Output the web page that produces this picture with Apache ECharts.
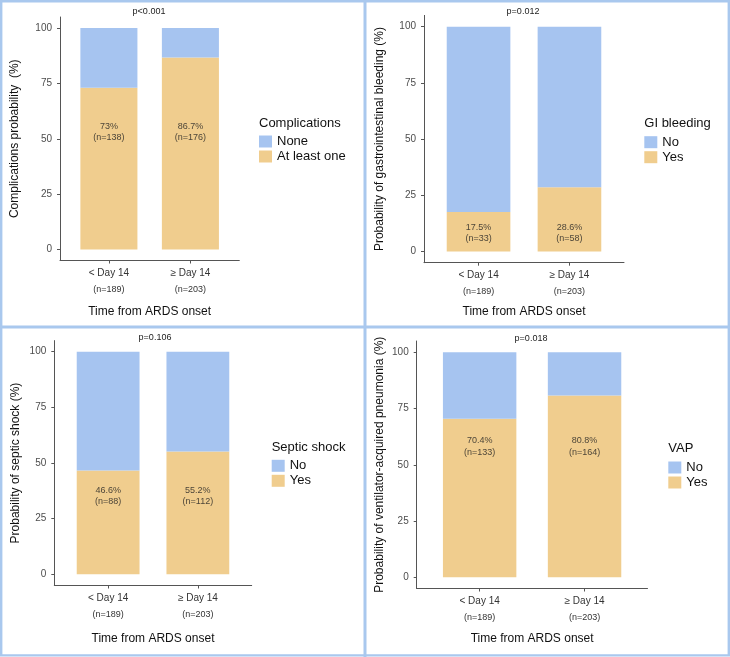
<!DOCTYPE html>
<html>
<head>
<meta charset="utf-8">
<script src="https://cdn.jsdelivr.net/npm/echarts@6/dist/echarts.min.js"></script>
<style>
html,body{margin:0;padding:0;background:#fff;}
#chart{width:730px;height:657px;}
</style>
</head>
<body>
<div id="chart"></div>
<script>
// ---- data ----
const categories = ['< Day 14', '≥ Day 14'];
const groupN = ['(n=189)', '(n=203)'];
const yTicks = [0, 25, 50, 75, 100];

const complicationsAtLeastOne = [73, 86.7];
const complicationsNone = [27, 13.3];
const complicationsCount = [138, 176];

const giYes = [17.5, 28.6];
const giNo = [82.5, 71.4];
const giCount = [33, 58];

const shockYes = [46.6, 55.2];
const shockNo = [53.4, 44.8];
const shockCount = [88, 112];

const vapYes = [70.4, 80.8];
const vapNo = [29.6, 19.2];
const vapCount = [133, 164];

// ---- styles / layout ----
const BLUE = '#a6c4f0';
const YELLOW = '#f0cd8e';
const AXIS = '#555555';
const FONT = 'Liberation Sans, Arial, Helvetica, sans-serif';

const panels = [
  {yes: complicationsAtLeastOne, no: complicationsNone, n: complicationsCount,
   yesName: 'At least one', noName: 'None', yName: 'Complications probability  (%)',
   legendTitle: 'Complications', p: 'p<0.001', labelY: 53,
   grid: {left: 60, top: 17, width: 179.3, height: 243.5}, yGap: 39, xGap: 45.5,
   legend: {left: 259, top: 135}, pPos: [149, 12], ltPos: [259, 123]},
  {yes: giYes, no: giNo, n: giCount,
   yesName: 'Yes', noName: 'No', yName: 'Probability of gastrointestinal bleeding (%)',
   legendTitle: 'GI bleeding', p: 'p=0.012', labelY: 8.1,
   grid: {left: 424, top: 15.4, width: 200, height: 247.3}, yGap: 38, xGap: 43,
   legend: {left: 644.3, top: 135.7}, pPos: [523, 12], ltPos: [644.3, 123]},
  {yes: shockYes, no: shockNo, n: shockCount,
   yesName: 'Yes', noName: 'No', yName: 'Probability of septic shock (%)',
   legendTitle: 'Septic shock', p: 'p=0.106', labelY: 35.1,
   grid: {left: 54.3, top: 340.6, width: 197.4, height: 244.9}, yGap: 33, xGap: 47,
   legend: {left: 271.7, top: 459.3}, pPos: [155, 337.7], ltPos: [271.7, 447.3]},
  {yes: vapYes, no: vapNo, n: vapCount,
   yesName: 'Yes', noName: 'No', yName: 'Probability of ventilator-acquired pneumonia (%)',
   legendTitle: 'VAP', p: 'p=0.018', labelY: 58.2,
   grid: {left: 416.7, top: 341, width: 230.8, height: 247.5}, yGap: 31, xGap: 44.5,
   legend: {left: 668.3, top: 461}, pPos: [531, 339], ltPos: [668.3, 448.3]}
];

const chart = echarts.init(document.getElementById('chart'), null, {renderer: 'canvas'});
const option = {
  animation: false,
  backgroundColor: '#ffffff',
  textStyle: {fontFamily: FONT},
  grid: [], xAxis: [], yAxis: [], series: [], legend: [],
  graphic: [
    {type: 'rect', shape: {x: 1.2, y: 1.2, width: 727.6, height: 654.2}, style: {fill: null, stroke: '#a9c8ee', lineWidth: 2.4}, silent: true},
    {type: 'line', shape: {x1: 365, y1: 0, x2: 365, y2: 657}, style: {stroke: '#a9c8ee', lineWidth: 3}, silent: true},
    {type: 'line', shape: {x1: 0, y1: 327, x2: 730, y2: 327}, style: {stroke: '#a9c8ee', lineWidth: 3}, silent: true}
  ]
};

panels.forEach((p, i) => {
  option.grid.push(Object.assign({containLabel: false}, p.grid));
  option.xAxis.push({
    type: 'value', gridIndex: i, min: -0.6, max: 1.6,
    axisLine: {show: true, onZero: false, lineStyle: {color: AXIS, width: 1}},
    axisTick: {show: true, customValues: [0, 1], length: 3, lineStyle: {color: AXIS}},
    axisLabel: {
      show: true, customValues: [0, 1], margin: 5,
      formatter: v => { const k = Math.round(v); return '{a|' + categories[k] + '}\n{b|' + groupN[k] + '}'; },
      rich: {a: {fontSize: 10, lineHeight: 16, color: '#333', fontFamily: FONT},
             b: {fontSize: 9, lineHeight: 16, color: '#333', fontFamily: FONT}}
    },
    splitLine: {show: false},
    name: 'Time from ARDS onset', nameLocation: 'middle', nameGap: p.xGap,
    nameTextStyle: {fontSize: 12, color: '#111', fontFamily: FONT}
  });
  option.yAxis.push({
    type: 'value', gridIndex: i, min: -5, max: 105,
    axisLine: {show: true, onZero: false, lineStyle: {color: AXIS, width: 1}},
    axisTick: {show: true, customValues: yTicks, length: 3, lineStyle: {color: AXIS}},
    axisLabel: {show: true, customValues: yTicks, margin: 8, fontSize: 10, color: '#4d4d4d', fontFamily: FONT},
    splitLine: {show: false},
    name: p.yName, nameLocation: 'middle', nameGap: p.yGap,
    nameTextStyle: {fontSize: 12, color: '#111', fontFamily: FONT}
  });
  const bw = 0.7 * p.grid.width / 2.2;
  // value first so the stacked dimension is the percentage (y), x position second
  option.series.push({
    type: 'bar', name: p.yesName, xAxisIndex: i, yAxisIndex: i, stack: 'stk' + i,
    barWidth: bw, silent: true,
    itemStyle: {color: YELLOW},
    encode: {x: 1, y: 0},
    data: p.yes.map((v, k) => [v, k])
  });
  option.series.push({
    type: 'bar', name: p.noName, xAxisIndex: i, yAxisIndex: i, stack: 'stk' + i,
    barWidth: bw, silent: true,
    itemStyle: {color: BLUE},
    encode: {x: 1, y: 0},
    data: p.no.map((v, k) => [v, k])
  });
  option.series.push({
    type: 'scatter', name: 'labels' + i, xAxisIndex: i, yAxisIndex: i,
    symbolSize: 0.1, silent: true, z: 5,
    itemStyle: {color: 'transparent'},
    label: {show: true, position: 'inside', formatter: d => d.data[2],
            fontSize: 9, lineHeight: 11.5, color: '#222', fontFamily: FONT},
    data: p.yes.map((v, k) => [k, p.labelY, v + '%\n(n=' + p.n[k] + ')'])
  });
  option.legend.push({
    orient: 'vertical', left: p.legend.left, top: p.legend.top,
    itemWidth: 13, itemHeight: 12, itemGap: 2, padding: 0, icon: 'rect',
    selectedMode: false,
    data: [p.noName, p.yesName],
    textStyle: {fontSize: 13, color: '#111', lineHeight: 12, fontFamily: FONT}
  });
  option.graphic.push({
    type: 'text', x: p.pPos[0], y: p.pPos[1], silent: true,
    style: {text: p.p, align: 'center', verticalAlign: 'middle', fontSize: 9, fill: '#222', fontFamily: FONT}
  });
  option.graphic.push({
    type: 'text', x: p.ltPos[0], y: p.ltPos[1], silent: true,
    style: {text: p.legendTitle, align: 'left', verticalAlign: 'middle', fontSize: 13, fill: '#111', fontFamily: FONT}
  });
});

chart.setOption(option);
</script>
</body>
</html>
